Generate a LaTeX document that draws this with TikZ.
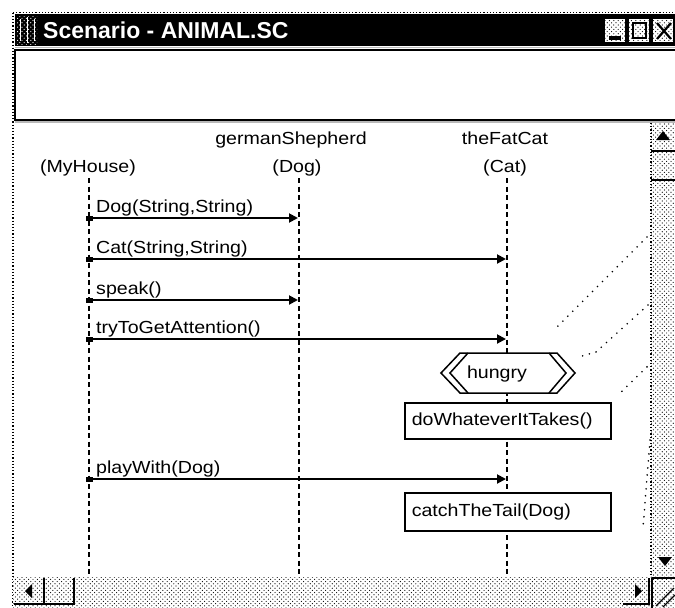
\documentclass[tikz,border=0pt]{standalone}
\usepackage{fontspec}
\setmainfont{Liberation Sans}
\newfontfamily\uifont{Liberation Sans}[FakeStretch=1.12]
\newfontfamily\captionfont{Liberation Sans}
\usetikzlibrary{arrows.meta,patterns,calc}

% dithered grey used by scroll bars and buttons
\pgfdeclarepatternformonly{stipple}{\pgfqpoint{-1pt}{-1pt}}{\pgfqpoint{4pt}{4pt}}{\pgfqpoint{4.4pt}{4.4pt}}{%
  \pgfpathcircle{\pgfqpoint{0pt}{0pt}}{.6pt}%
  \pgfpathcircle{\pgfqpoint{2.2pt}{2.2pt}}{.6pt}%
  \pgfusepath{fill}}

\begin{document}
\begin{tikzpicture}[x=1pt,y=-1pt,
  txt/.style={font=\uifont\fontsize{17.5}{20}\selectfont, inner sep=0pt},
  msglabel/.style={txt, anchor=base west},
  lifeline/.style={line width=1.9pt, dash pattern=on 5pt off 3.5pt},
  msg/.style={line width=1.9pt, -{Triangle[length=9pt,width=9pt]}, shorten >=1pt},
  actbox/.style={draw, line width=1.5pt, fill=white, anchor=north west,
    minimum width=206pt, text width=192pt, inner xsep=7pt, align=left,
    font=\uifont\fontsize{17.5}{20}\selectfont},
  noteline/.style={line width=1.8pt, dash pattern=on 0pt off 7pt, line cap=round},
  frameline/.style={line width=1.2pt, dash pattern=on 1.2pt off 2pt},
  edge/.style={line width=1.8pt}]

\useasboundingbox (0,0) rectangle (675,608);
\fill[white] (0,0) rectangle (675,608);

% ---- window frame and caption bar ----
\draw[frameline] (13,12.5) -- (675,12.5);
\draw[frameline] (13,12.5) -- (13,608);
\fill[black] (14.5,14) rectangle (675,46);
\fill[pattern=stipple, pattern color=white] (17,16) rectangle (37,44);
\draw[white, line width=1pt] (20,19) -- (20,41) (27,17) -- (27,43) (34,19) -- (34,41);
\node[anchor=base west, text=white, inner sep=0pt,
      font=\captionfont\bfseries\fontsize{23}{25}\selectfont] (caption) at (43,38) {Scenario - ANIMAL.SC};

% caption buttons
\foreach \bx in {605,629,653}{
  \fill[white] (\bx,19) rectangle ++(21,24);
  \fill[pattern=stipple] (\bx,19) rectangle ++(21,24);
  \draw[edge] (\bx+21,19) -- ++(0,24) -- ++(-21,0);
}
\fill (609,36) rectangle (621,40);
\draw[line width=1.6pt] (633,23) rectangle (646,38);
\draw[line width=2.2pt] (657,23) -- (671,39) (671,23) -- (657,39);

% ---- description panel ----
\draw[gray!55, line width=1.5pt] (15,47.5) -- (675,47.5);
\draw[line width=2.2pt, fill=white] (15,50) rectangle (678,120);
\draw[gray!55, line width=1.2pt] (15,122) -- (675,122);

% ---- object headers ----
\node[txt, anchor=base] (shepName) at (291,144) {germanShepherd};
\node[txt, anchor=base] (dogType) at (297,172) {(Dog)};
\node[txt, anchor=base] (catName) at (505,144) {theFatCat};
\node[txt, anchor=base] (catType) at (505,172) {(Cat)};
\node[txt, anchor=base] (houseType) at (88,172) {(MyHouse)};

\coordinate (hTop) at (89,178);
\coordinate (dTop) at (299,178);
\coordinate (cTop) at (507,178);
\coordinate (bottomEdge) at (0,577);

% ---- lifelines ----
\draw[lifeline] (hTop) -- (hTop |- bottomEdge);
\draw[lifeline] (dTop) -- (dTop |- bottomEdge);
\draw[lifeline] (cTop) -- (cTop |- bottomEdge);

% ---- messages ----
\coordinate (r1) at (0,218);
\coordinate (r2) at (0,259);
\coordinate (r3) at (0,300);
\coordinate (r4) at (0,339);
\coordinate (r5) at (0,479);

\foreach \r/\t in {r1/dTop, r2/cTop, r3/dTop, r4/cTop, r5/cTop}{
  \fill ($(hTop |- \r)+(-3.5,-2.5)$) rectangle ++(7,5);
  \draw[msg] (hTop |- \r) -- (\t |- \r);
}
\node[msglabel] (m1) at ($(r1)+(96,-6)$) {Dog(String,String)};
\node[msglabel] (m2) at ($(r2)+(96,-6)$) {Cat(String,String)};
\node[msglabel] (m3) at ($(r3)+(96,-6)$) {speak()};
\node[msglabel] (m4) at ($(r4)+(96,-6)$) {tryToGetAttention()};
\node[msglabel] (m5) at ($(r5)+(96,-6)$) {playWith(Dog)};

% ---- state and actions on theFatCat ----
\filldraw[fill=white, line width=1.5pt] (460,353) -- (557,353) -- (575,373) -- (557,393)
  -- (460,393) -- (441,373) -- cycle;
\draw[line width=1.5pt] (468,353) -- (450,373) -- (468,393);
\draw[line width=1.5pt] (549,353) -- (566,373) -- (549,393);
\node[txt, anchor=base] (hungry) at (497,378) {hungry};

\node[actbox, minimum height=36pt] (doWhatever) at (404,402) {doWhateverItTakes()};
\node[actbox, minimum height=38pt] (catchTail) at (404,492) {catchTheTail(Dog)};

% ---- note connectors running off to the right ----
\draw[noteline] (647,237) -- (556,328);
\draw[noteline] (648,305) -- (596,352) -- (579,357);
\draw[noteline] (652,362) -- (617,396);
\draw[noteline] (650,440) -- (643,528);

% ---- vertical scroll bar ----
\fill[white] (651,123) rectangle (675,577);
\fill[pattern=stipple] (651,123) rectangle (675,577);
\draw[frameline] (651,123) -- (651,577);
\draw[edge] (651,151) -- (675,151);
\draw[edge] (651,180) -- (675,180);
\fill (663,131) -- (670,140) -- (656,140) -- cycle;
\fill (658,557) -- (672,557) -- (665,566) -- cycle;

% ---- horizontal scroll bar ----
\fill[white] (13,577) rectangle (651,608);
\fill[pattern=stipple] (13,577) rectangle (651,608);
\draw[edge] (44,578) -- (44,604) -- (14,604);
\draw[edge] (74,578) -- (74,604) -- (45,604);
\fill (25,591) -- (32,584) -- (32,598) -- cycle;
\draw[edge] (649,578) -- (649,604) -- (623,604);
\fill (642,591) -- (635,584) -- (635,598) -- cycle;

% size grip
\fill[white] (652,577) rectangle (675,608);
\fill[pattern=stipple] (652,577) rectangle (675,608);
\draw[edge] (652,578) -- (675,578);
\draw[edge] (652,578) -- (652,608);
\draw[line width=1.2pt] (656,606) -- (674,588) (663,607) -- (675,595);
\end{tikzpicture}
\end{document}
